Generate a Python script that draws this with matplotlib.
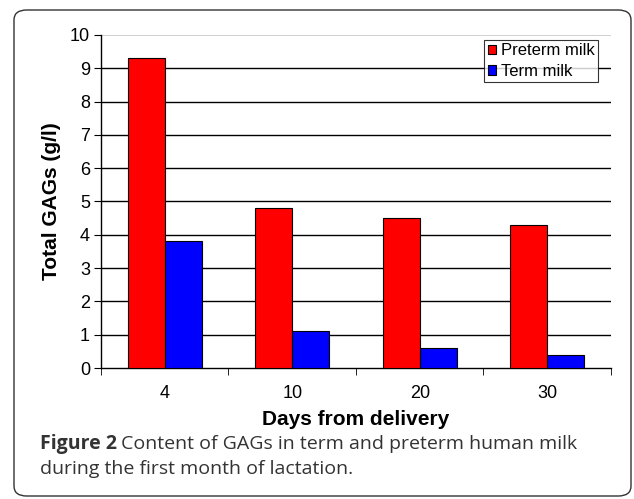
import numpy as np
import matplotlib.pyplot as plt
from matplotlib.patches import FancyBboxPatch

days = ["4", "10", "20", "30"]
preterm = [9.3, 4.8, 4.5, 4.3]
term = [3.8, 1.1, 0.6, 0.4]

plt.rcParams['font.family'] = ['Liberation Sans', 'DejaVu Sans']

fig = plt.figure(figsize=(6.34, 4.99), dpi=100)
ax = fig.add_axes([0.1593, 0.2625, 0.8044, 0.6674])

# rounded outer frame
frame = FancyBboxPatch((14 / 634, 3 / 499), 617 / 634, 486 / 499,
                       boxstyle="round,pad=0,rounding_size=0.02",
                       transform=fig.transFigure, fill=False,
                       edgecolor='#333333', linewidth=1.0)
fig.patches.append(frame)

x = np.arange(len(days))
w = 0.29
ax.bar(x - w / 2, preterm, w, color='#ff0000', edgecolor='black', linewidth=0.8,
       label='Preterm milk', zorder=3)
ax.bar(x + w / 2, term, w, color='#0000ff', edgecolor='black', linewidth=0.8,
       label='Term milk', zorder=3)

ax.set_xlim(-0.5, 3.5)
ax.set_ylim(0, 10)
ax.set_yticks(range(0, 11))
for v in range(1, 10):
    ax.axhline(v, color='black', linewidth=1.0, zorder=1)
ax.axhline(10, color='#c8c8c8', linewidth=1.2, zorder=1)

ax.set_xticks(x)
ax.set_xticklabels(days)
ax.set_xticks(np.arange(-0.5, 4.0, 1.0), minor=True)
ax.tick_params(axis='x', which='major', length=0, labelsize=13, pad=12)
ax.tick_params(axis='x', which='minor', length=5, direction='out')
ax.tick_params(axis='y', length=5, direction='out', labelsize=13, pad=3)

for s in ['top', 'right']:
    ax.spines[s].set_visible(False)
ax.spines['left'].set_linewidth(1.0)
ax.spines['bottom'].set_linewidth(1.0)

ax.set_ylabel('Total GAGs (g/l)', fontsize=15, fontweight='bold', labelpad=6)
ax.set_xlabel('Days from delivery', fontsize=15, fontweight='bold', labelpad=6)

leg = ax.legend(loc='upper right', bbox_to_anchor=(0.975, 0.985), fontsize=12,
                frameon=True, fancybox=False, edgecolor='black',
                handlelength=0.5, handleheight=0.5, handletextpad=0.3,
                borderpad=0.2, labelspacing=0.35, borderaxespad=0.0)
leg.get_frame().set_linewidth(0.8)

cap_font = ['Open Sans', 'DejaVu Sans']
fig.text(40 / 634, 1 - 444 / 499, 'Figure 2', fontsize=14, fontweight='bold',
         family=cap_font, color='#333333', va='center')
fig.text(121 / 634, 1 - 444 / 499, 'Content of GAGs in term and preterm human milk',
         fontsize=14, family=cap_font, color='#333333', va='center')
fig.text(40 / 634, 1 - 469 / 499, 'during the first month of lactation.',
         fontsize=14, family=cap_font, color='#333333', va='center')

fig.savefig('out.png', dpi=100)
